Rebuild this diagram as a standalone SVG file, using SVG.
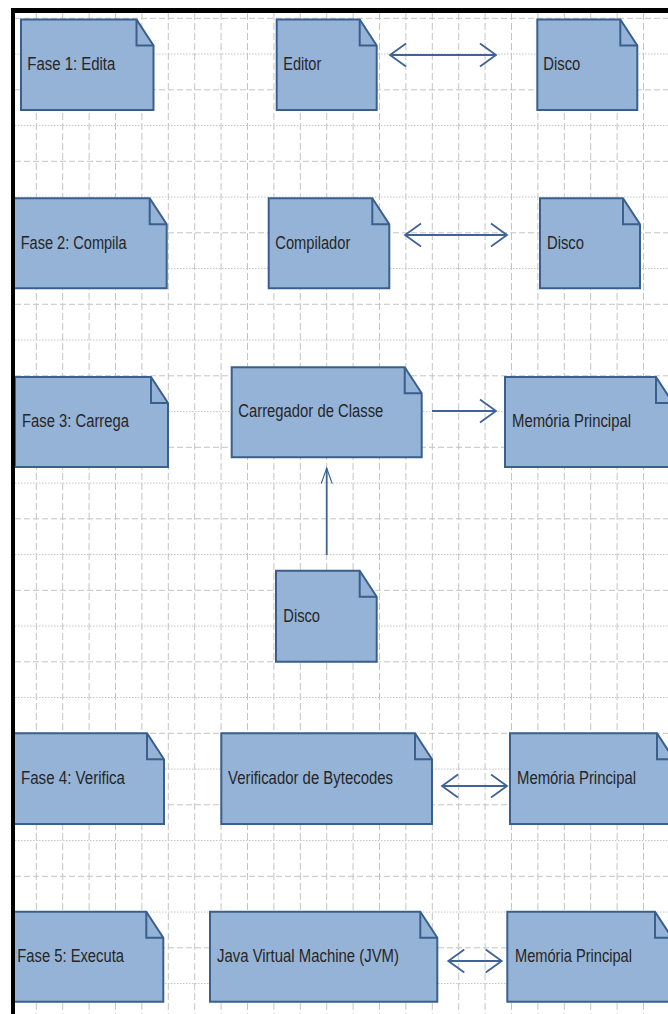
<svg xmlns="http://www.w3.org/2000/svg" width="668" height="1014" viewBox="0 0 668 1014">
  <style>
    .gv { stroke: #c4c4c4; stroke-width: 1; stroke-dasharray: 7 3; fill: none; }
    .gh { stroke: #c4c4c4; stroke-width: 1; stroke-dasharray: 6 3; fill: none; }
    .gd { stroke: #c4c4c4; stroke-width: 1; stroke-dasharray: 1.5 1.5; fill: none; }
    .body { fill: #95b3d7; stroke: #3a5f8c; stroke-width: 2; stroke-linejoin: miter; }
    .fold { fill: none; stroke: #3a5f8c; stroke-width: 2; }
    .lbl { font-family: "Liberation Sans", Arial, sans-serif; font-size: 17.5px; fill: #262626; }
    .conn { stroke: #3f6396; stroke-width: 1.8; fill: none; }
  </style>
  <defs>
    <marker id="headH" markerUnits="userSpaceOnUse" markerWidth="40" markerHeight="40" refX="0" refY="0" viewBox="-20 -20 40 40" orient="auto-start-reverse" overflow="visible">
      <path d="M-16,-11.5 L0,0 L-16,11.5" fill="none" stroke="#3f6396" stroke-width="1.8"/>
    </marker>
    <marker id="headV" markerUnits="userSpaceOnUse" markerWidth="40" markerHeight="40" refX="0" refY="0" viewBox="-30 -20 60 40" orient="auto" overflow="visible">
      <path d="M-23,-8.3 L0,0 L-23,8.3" fill="none" stroke="#3f6396" stroke-width="1.8"/>
    </marker>
  </defs>

  <rect x="0" y="0" width="668" height="1014" fill="#ffffff"/>

  <!-- background grid -->
  <g id="grid">
    <path class="gv" d="M36.3,13V1014 M62.7,13V1014 M89.1,13V1014 M115.5,13V1014 M141.9,13V1014 M168.3,13V1014 M194.7,13V1014 M221.1,13V1014 M247.5,13V1014 M273.9,13V1014 M300.3,13V1014 M326.7,13V1014 M353.1,13V1014 M379.5,13V1014 M405.9,13V1014 M432.3,13V1014 M458.7,13V1014 M485.1,13V1014 M511.5,13V1014 M537.9,13V1014 M564.3,13V1014 M590.7,13V1014 M617.1,13V1014 M643.5,13V1014"/>
    <path class="gh" d="M15,18.3H668 M15,89.8H668 M15,161.3H668 M15,232.8H668 M15,304.3H668 M15,375.8H668 M15,447.3H668 M15,518.8H668 M15,590.3H668 M15,661.8H668 M15,733.3H668 M15,804.8H668 M15,876.3H668 M15,947.8H668"/>
    <path class="gd" d="M15,54.05H668 M15,125.55H668 M15,197.05H668 M15,268.55H668 M15,340.05H668 M15,411.55H668 M15,483.05H668 M15,554.55H668 M15,626.05H668 M15,697.55H668 M15,769.05H668 M15,840.55H668 M15,912.05H668 M15,983.55H668"/>
  </g>

  <!-- connectors -->
  <g id="connectors">
    <path class="conn" d="M390,55H496" marker-start="url(#headH)" marker-end="url(#headH)"/>
    <path class="conn" d="M405,235H507" marker-start="url(#headH)" marker-end="url(#headH)"/>
    <path class="conn" d="M432,411H496" marker-end="url(#headH)"/>
    <path class="conn" d="M326.7,555V468.3" marker-end="url(#headV)"/>
    <path class="conn" d="M442,786H507" marker-start="url(#headH)" marker-end="url(#headH)"/>
    <path class="conn" d="M448.3,961H501.7" marker-start="url(#headH)" marker-end="url(#headH)"/>
  </g>

  <!-- row 1 -->
  <g id="fase1">
    <path class="body" d="M21,19.5H136.5L153.5,45.5V110H21Z"/>
    <path class="fold" d="M136.5,19.5V45.5H153.5"/>
    <text class="lbl" x="27.3" y="70" textLength="88" lengthAdjust="spacingAndGlyphs">Fase 1: Edita</text>
  </g>
  <g id="editor">
    <path class="body" d="M276.7,19.5H359.7L376.7,45.5V110H276.7Z"/>
    <path class="fold" d="M359.7,19.5V45.5H376.7"/>
    <text class="lbl" x="283.3" y="70" textLength="38" lengthAdjust="spacingAndGlyphs">Editor</text>
  </g>
  <g id="disco1">
    <path class="body" d="M537.3,19.5H620.3L637.3,45.5V110H537.3Z"/>
    <path class="fold" d="M620.3,19.5V45.5H637.3"/>
    <text class="lbl" x="543.3" y="70" textLength="37" lengthAdjust="spacingAndGlyphs">Disco</text>
  </g>

  <!-- row 2 -->
  <g id="fase2">
    <path class="body" d="M14,198.3H149.7L166.7,224.3V288.3H14Z"/>
    <path class="fold" d="M149.7,198.3V224.3H166.7"/>
    <text class="lbl" x="20.7" y="248.5" textLength="106" lengthAdjust="spacingAndGlyphs">Fase 2: Compila</text>
  </g>
  <g id="compilador">
    <path class="body" d="M268.7,198.3H372.3L389.3,224.3V288.3H268.7Z"/>
    <path class="fold" d="M372.3,198.3V224.3H389.3"/>
    <text class="lbl" x="275.3" y="248.5" textLength="75" lengthAdjust="spacingAndGlyphs">Compilador</text>
  </g>
  <g id="disco2">
    <path class="body" d="M540,198.3H623L640,224.3V288.3H540Z"/>
    <path class="fold" d="M623,198.3V224.3H640"/>
    <text class="lbl" x="547" y="248.5" textLength="37" lengthAdjust="spacingAndGlyphs">Disco</text>
  </g>

  <!-- row 3 -->
  <g id="fase3">
    <path class="body" d="M15,377H151L168,403V467H15Z"/>
    <path class="fold" d="M151,377V403H168"/>
    <text class="lbl" x="22" y="427" textLength="107" lengthAdjust="spacingAndGlyphs">Fase 3: Carrega</text>
  </g>
  <g id="carregador">
    <path class="body" d="M231.7,367.3H404.7L421.7,393.3V457.3H231.7Z"/>
    <path class="fold" d="M404.7,367.3V393.3H421.7"/>
    <text class="lbl" x="238.3" y="416.7" textLength="145" lengthAdjust="spacingAndGlyphs">Carregador de Classe</text>
  </g>
  <g id="memoria3">
    <path class="body" d="M505,377H656L673,403V467H505Z"/>
    <path class="fold" d="M656,377V403H673"/>
    <text class="lbl" x="512" y="427" textLength="119" lengthAdjust="spacingAndGlyphs">Memória Principal</text>
  </g>
  <g id="disco3">
    <path class="body" d="M276,570.7H359.7L376.7,596.7V661.7H276Z"/>
    <path class="fold" d="M359.7,570.7V596.7H376.7"/>
    <text class="lbl" x="283.3" y="621.7" textLength="36.7" lengthAdjust="spacingAndGlyphs">Disco</text>
  </g>

  <!-- row 4 -->
  <g id="fase4">
    <path class="body" d="M14,733.3H147L164,759.3V824H14Z"/>
    <path class="fold" d="M147,733.3V759.3H164"/>
    <text class="lbl" x="21" y="783.5" textLength="104" lengthAdjust="spacingAndGlyphs">Fase 4: Verifica</text>
  </g>
  <g id="verificador">
    <path class="body" d="M221.3,733.3H415L432,759.3V824H221.3Z"/>
    <path class="fold" d="M415,733.3V759.3H432"/>
    <text class="lbl" x="228" y="783.5" textLength="165" lengthAdjust="spacingAndGlyphs">Verificador de Bytecodes</text>
  </g>
  <g id="memoria4">
    <path class="body" d="M510,733.3H657L674,759.3V824H510Z"/>
    <path class="fold" d="M657,733.3V759.3H674"/>
    <text class="lbl" x="517" y="783.5" textLength="119" lengthAdjust="spacingAndGlyphs">Memória Principal</text>
  </g>

  <!-- row 5 -->
  <g id="fase5">
    <path class="body" d="M14,911.7H146.3L163.3,937.7V1001.7H14Z"/>
    <path class="fold" d="M146.3,911.7V937.7H163.3"/>
    <text class="lbl" x="17.3" y="961.7" textLength="106.7" lengthAdjust="spacingAndGlyphs">Fase 5: Executa</text>
  </g>
  <g id="jvm">
    <path class="body" d="M210,911.7H420.3L437.3,937.7V1001.7H210Z"/>
    <path class="fold" d="M420.3,911.7V937.7H437.3"/>
    <text class="lbl" x="217" y="961.7" textLength="182" lengthAdjust="spacingAndGlyphs">Java Virtual Machine (JVM)</text>
  </g>
  <g id="memoria5">
    <path class="body" d="M507.3,911.7H655L672,937.7V1001.7H507.3Z"/>
    <path class="fold" d="M655,911.7V937.7H672"/>
    <text class="lbl" x="515" y="961.7" textLength="117" lengthAdjust="spacingAndGlyphs">Memória Principal</text>
  </g>

  <!-- page frame -->
  <g id="frame" fill="#000000">
    <rect x="11" y="8" width="657" height="5"/>
    <rect x="11" y="8" width="4" height="1006"/>
  </g>
</svg>
